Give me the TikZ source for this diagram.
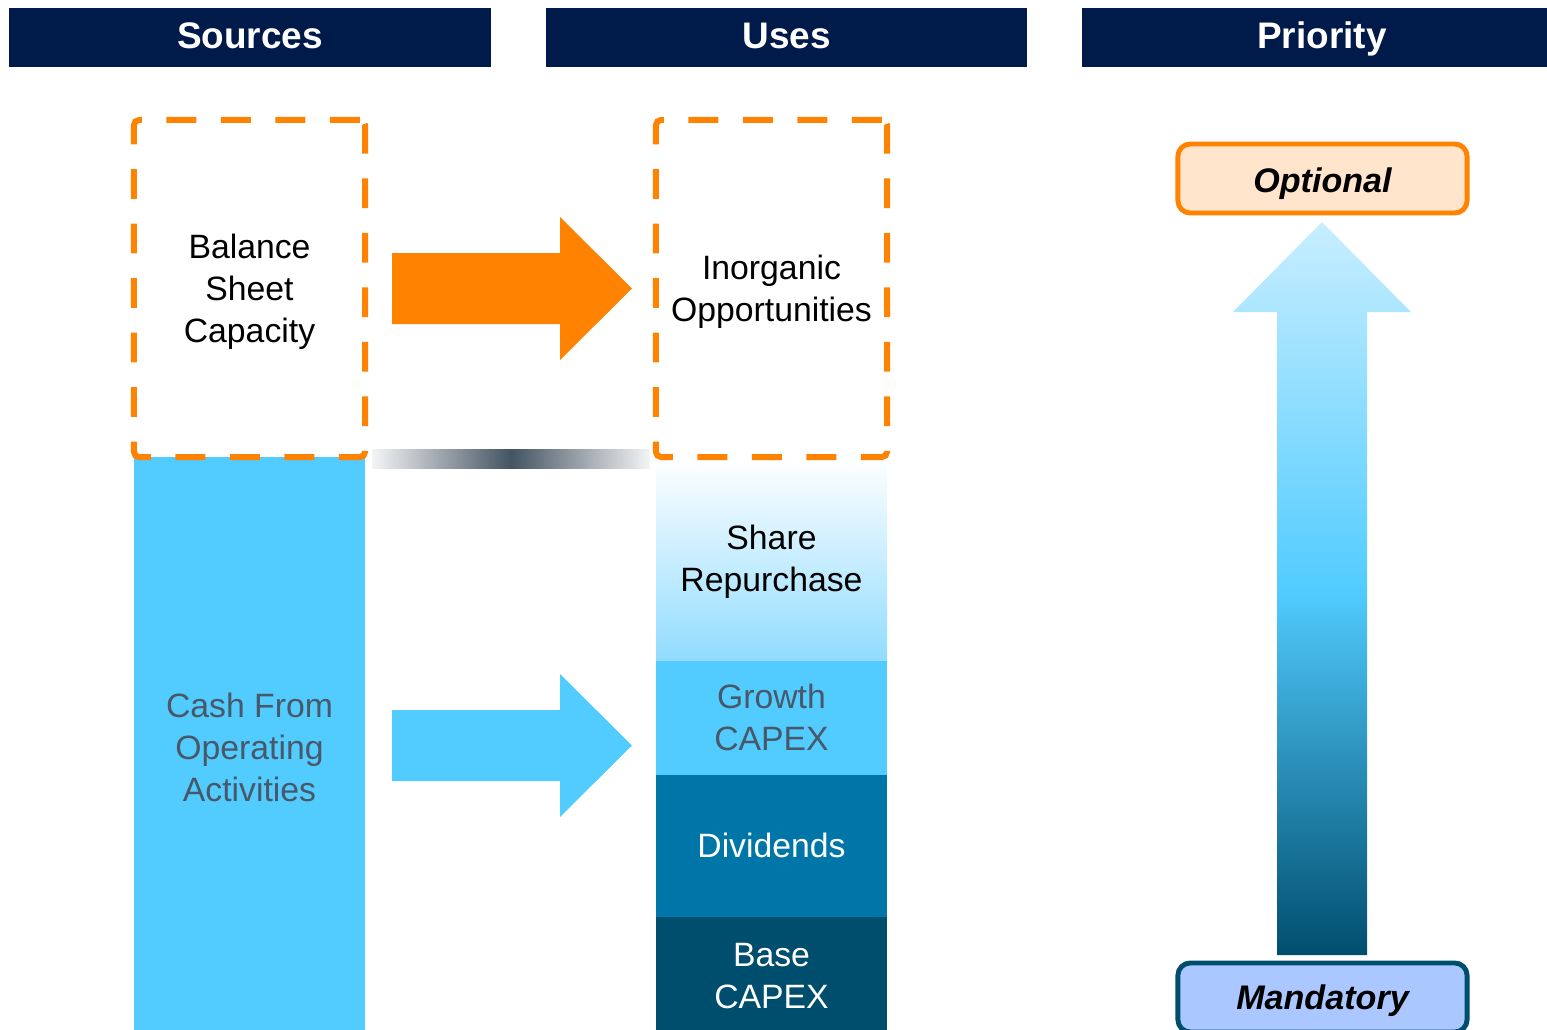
\documentclass[tikz,border=0pt]{standalone}
\usepackage{fontspec}
\setmainfont{Liberation Sans}

\definecolor{navy}{RGB}{0,26,74}
\definecolor{dorange}{RGB}{255,130,0}
\definecolor{cashblue}{RGB}{82,204,255}
\definecolor{paleblue}{RGB}{145,220,255}
\definecolor{topblue}{RGB}{200,238,255}
\definecolor{divblue}{RGB}{0,117,168}
\definecolor{baseblue}{RGB}{0,78,110}
\definecolor{greytext}{RGB}{72,88,104}
\definecolor{barshade}{RGB}{68,84,98}
\definecolor{optfill}{RGB}{255,229,204}
\definecolor{mandfill}{RGB}{170,200,255}

\newcommand{\ls}{\rule[-0.212em]{0pt}{1.117em}}

\begin{document}
\begin{tikzpicture}[x=0.01cm, y=-0.01cm]

\useasboundingbox (0,0) rectangle (1547,1030);

\tikzstyle{every node} = [inner sep=0pt, align=center, font=\fontsize{9.6}{11.95}\selectfont,
  execute at begin node=\ls, execute at end node=\ls]
\tikzstyle{head} = [fill=navy, text=white, minimum height=0.59cm, font=\fontsize{10.5}{12}\selectfont\bfseries,
  execute at end node={\rule[-0.32em]{0pt}{0pt}}]
\tikzstyle{block} = [minimum width=2.31cm]
\tikzstyle{capacity} = [block, minimum height=3.37cm, draw=dorange, line width=1.7pt, dash pattern=on 8.5pt off 7pt, rounded corners=1.5pt]
\tikzstyle{level} = [minimum width=2.89cm, minimum height=0.69cm, line width=1.4pt, rounded corners=3.5pt, font=\fontsize{9.7}{11}\selectfont\bfseries\itshape]

\node[head, minimum width=4.82cm] (src) at (250,37.5) {Sources};
\node[head, minimum width=4.81cm] (use) at (786.5,37.5) {Uses};
\node[head, minimum width=4.80cm] (pri) at (1322,37.5) {Priority};

\node[block, fill=cashblue, text=greytext, minimum height=5.81cm] (cash) at (249.5,747.5) {\ls Cash From\\Operating\\Activities\ls};

\shade[top color=white, bottom color=paleblue] (656,457) rectangle (887,661);
\node[block, minimum height=2.04cm] (share) at (771.5,559) {\ls Share\\Repurchase\ls};
\node[block, fill=cashblue, text=greytext, minimum height=1.14cm] (growth) at (771.5,718) {\ls Growth\\CAPEX\ls};
\node[block, fill=divblue, text=white, minimum height=1.42cm] (div) at (771.5,846) {Dividends};
\node[block, fill=baseblue, text=white, minimum height=1.17cm] (base) at (771.5,975.5) {\ls Base\\CAPEX\ls};

\node[capacity] (bsc) at (249.5,288.5) {\ls Balance\\Sheet\\Capacity\ls};
\node[capacity] (inorg) at (771.5,288.5) {\ls Inorganic\\Opportunities\ls};

\shade[left color=white!94!barshade, right color=white!94!barshade, middle color=barshade] (372,449) rectangle (650,468);

\fill[dorange] (392,253) -- (560,253) -- (560,217) -- (632,288.5) -- (560,360) -- (560,324) -- (392,324) -- cycle;
\fill[cashblue] (392,710) -- (560,710) -- (560,674) -- (632,745.5) -- (560,817) -- (560,781) -- (392,781) -- cycle;

\shade[top color=topblue, bottom color=baseblue, middle color=cashblue]
  (1277,955) -- (1277,312) -- (1233,312) -- (1322,222) -- (1411,312) -- (1367,312) -- (1367,955) -- cycle;

\node[level, draw=dorange, fill=optfill, execute at begin node={\rule{0pt}{1.02em}}] (opt) at (1322.5,178.5) {Optional};
\node[level, draw=baseblue, fill=mandfill] (mand) at (1322.5,997.5) {Mandatory};

\end{tikzpicture}
\end{document}
